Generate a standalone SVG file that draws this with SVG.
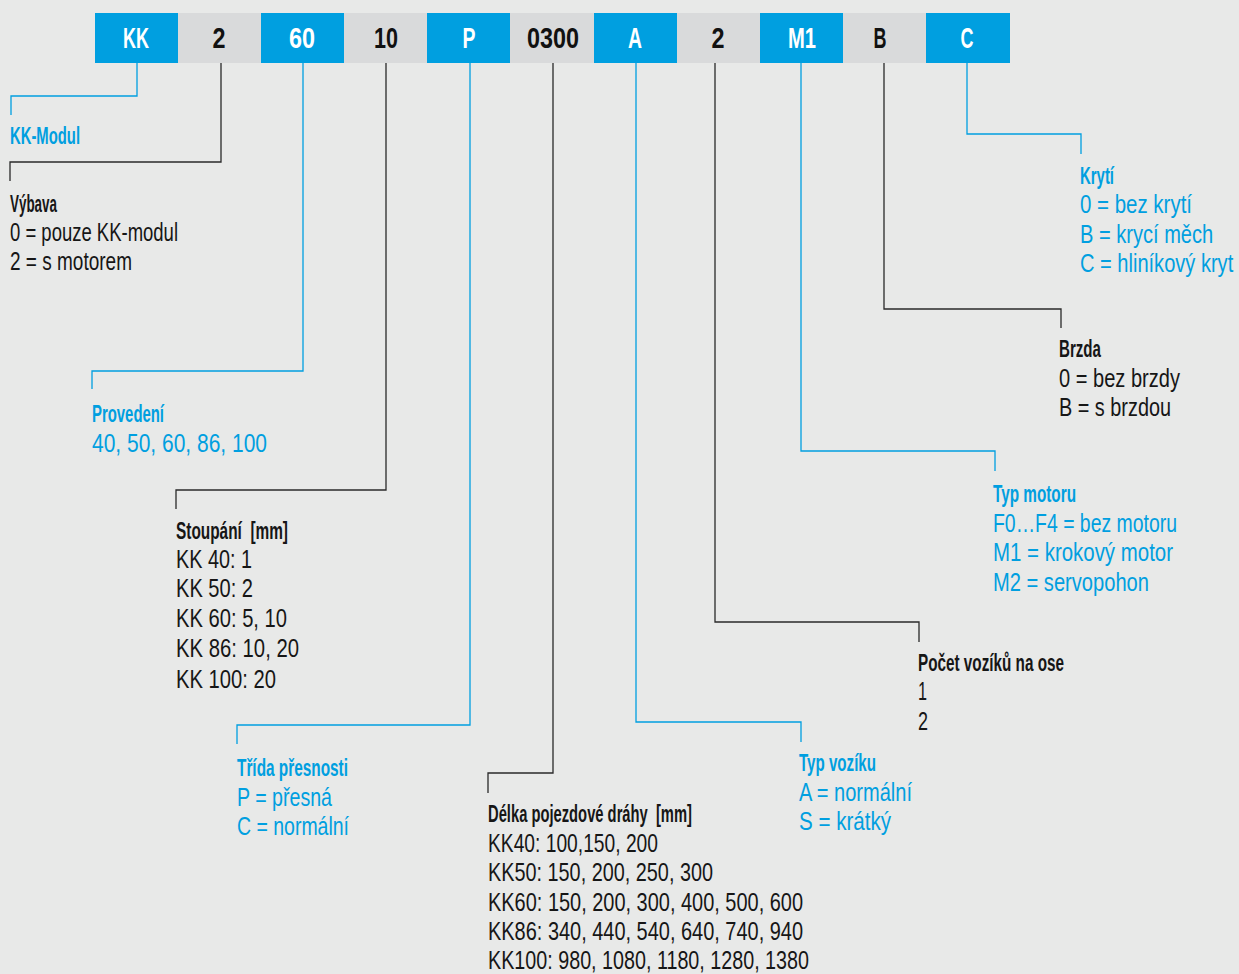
<svg xmlns="http://www.w3.org/2000/svg" width="1239" height="974" viewBox="0 0 1239 974">
<style>
.bg{fill:#e8e9e8}
.bb{fill:#009fe0}
.gb{fill:#d9dadb}
.code{font-family:"Liberation Sans",Arial,sans-serif;font-weight:bold;font-size:30px;text-anchor:middle}
.cw{fill:#ffffff}
.ck{fill:#111111}
.t{font-family:"Liberation Sans",Arial,sans-serif;font-size:26px}
.h{font-family:"Liberation Sans",Arial,sans-serif;font-size:23px;font-weight:bold}
.blue{fill:#009fe0}
.dark{fill:#161616}
.lb{fill:none;stroke:#009fe0;stroke-width:1.3}
.lk{fill:none;stroke:#2a2a2a;stroke-width:1.3}
</style>
<rect class="bg" x="0" y="0" width="1239" height="974"/>
<g id="code-bar">
<rect class="bb" x="95" y="13" width="83" height="50"/>
<rect class="gb" x="178" y="13" width="83" height="50"/>
<rect class="bb" x="261" y="13" width="83" height="50"/>
<rect class="gb" x="344" y="13" width="83" height="50"/>
<rect class="bb" x="427" y="13" width="83" height="50"/>
<rect class="gb" x="510" y="13" width="84" height="50"/>
<rect class="bb" x="594" y="13" width="83" height="50"/>
<rect class="gb" x="677" y="13" width="83" height="50"/>
<rect class="bb" x="760" y="13" width="83" height="50"/>
<rect class="gb" x="843" y="13" width="83" height="50"/>
<rect class="bb" x="926" y="13" width="84" height="50"/>
<text class="code cw" x="136" y="48" textLength="26" lengthAdjust="spacingAndGlyphs">KK</text>
<text class="code ck" x="219" y="48" textLength="13" lengthAdjust="spacingAndGlyphs">2</text>
<text class="code cw" x="302" y="48" textLength="26" lengthAdjust="spacingAndGlyphs">60</text>
<text class="code ck" x="386" y="48" textLength="24" lengthAdjust="spacingAndGlyphs">10</text>
<text class="code cw" x="469" y="48" textLength="13" lengthAdjust="spacingAndGlyphs">P</text>
<text class="code ck" x="553" y="48" textLength="52" lengthAdjust="spacingAndGlyphs">0300</text>
<text class="code cw" x="635" y="48" textLength="14" lengthAdjust="spacingAndGlyphs">A</text>
<text class="code ck" x="718" y="48" textLength="13" lengthAdjust="spacingAndGlyphs">2</text>
<text class="code cw" x="802" y="48" textLength="28" lengthAdjust="spacingAndGlyphs">M1</text>
<text class="code ck" x="880" y="48" textLength="13" lengthAdjust="spacingAndGlyphs">B</text>
<text class="code cw" x="967" y="48" textLength="13" lengthAdjust="spacingAndGlyphs">C</text>
</g>
<g id="connectors">
<polyline class="lb" points="137,63 137,96 11,96 11,115"/>
<polyline class="lk" points="221,63 221,162 10,162 10,181"/>
<polyline class="lb" points="303,63 303,371 92,371 92,389"/>
<polyline class="lk" points="386,63 386,490 176,490 176,509"/>
<polyline class="lb" points="470,63 470,725 237,725 237,744"/>
<polyline class="lk" points="553,63 553,773 488,773 488,793"/>
<polyline class="lb" points="636,63 636,722 801,722 801,742"/>
<polyline class="lk" points="715,63 715,622 919,622 919,642"/>
<polyline class="lb" points="801,63 801,451 995,451 995,471"/>
<polyline class="lk" points="884,63 884,309 1061,309 1061,328"/>
<polyline class="lb" points="967,63 967,134 1081,134 1081,154"/>
</g>
<g id="kk-modul">
<text class="h blue" x="10" y="144" textLength="70" lengthAdjust="spacingAndGlyphs">KK-Modul</text>
</g>
<g id="vybava">
<text class="h dark" x="10" y="212" textLength="47" lengthAdjust="spacingAndGlyphs">Výbava</text>
<text class="t dark" x="10" y="241" textLength="168" lengthAdjust="spacingAndGlyphs">0 = pouze KK-modul</text>
<text class="t dark" x="10" y="270" textLength="122" lengthAdjust="spacingAndGlyphs">2 = s motorem</text>
</g>
<g id="provedeni">
<text class="h blue" x="92" y="422" textLength="72" lengthAdjust="spacingAndGlyphs">Provedení</text>
<text class="t blue" x="92" y="452" textLength="175" lengthAdjust="spacingAndGlyphs">40, 50, 60, 86, 100</text>
</g>
<g id="stoupani">
<text class="h dark" x="176" y="539" textLength="112" lengthAdjust="spacingAndGlyphs">Stoupání&#160; [mm]</text>
<text class="t dark" x="176" y="568" textLength="76" lengthAdjust="spacingAndGlyphs">KK 40: 1</text>
<text class="t dark" x="176" y="597" textLength="77" lengthAdjust="spacingAndGlyphs">KK 50: 2</text>
<text class="t dark" x="176" y="627" textLength="111" lengthAdjust="spacingAndGlyphs">KK 60: 5, 10</text>
<text class="t dark" x="176" y="657" textLength="123" lengthAdjust="spacingAndGlyphs">KK 86: 10, 20</text>
<text class="t dark" x="176" y="688" textLength="100" lengthAdjust="spacingAndGlyphs">KK 100: 20</text>
</g>
<g id="trida-presnosti">
<text class="h blue" x="237" y="776" textLength="111" lengthAdjust="spacingAndGlyphs">Třída přesnosti</text>
<text class="t blue" x="237" y="806" textLength="95" lengthAdjust="spacingAndGlyphs">P = přesná</text>
<text class="t blue" x="237" y="835" textLength="112" lengthAdjust="spacingAndGlyphs">C = normální</text>
</g>
<g id="delka-drahy">
<text class="h dark" x="488" y="822" textLength="204" lengthAdjust="spacingAndGlyphs">Délka pojezdové dráhy&#160; [mm]</text>
<text class="t dark" x="488" y="852" textLength="170" lengthAdjust="spacingAndGlyphs">KK40: 100,150, 200</text>
<text class="t dark" x="488" y="881" textLength="225" lengthAdjust="spacingAndGlyphs">KK50: 150, 200, 250, 300</text>
<text class="t dark" x="488" y="911" textLength="315" lengthAdjust="spacingAndGlyphs">KK60: 150, 200, 300, 400, 500, 600</text>
<text class="t dark" x="488" y="940" textLength="315" lengthAdjust="spacingAndGlyphs">KK86: 340, 440, 540, 640, 740, 940</text>
<text class="t dark" x="488" y="969" textLength="321" lengthAdjust="spacingAndGlyphs">KK100: 980, 1080, 1180, 1280, 1380</text>
</g>
<g id="typ-voziku">
<text class="h blue" x="799" y="771" textLength="77" lengthAdjust="spacingAndGlyphs">Typ vozíku</text>
<text class="t blue" x="799" y="801" textLength="113" lengthAdjust="spacingAndGlyphs">A = normální</text>
<text class="t blue" x="799" y="830" textLength="92" lengthAdjust="spacingAndGlyphs">S = krátký</text>
</g>
<g id="pocet-voziku">
<text class="h dark" x="918" y="671" textLength="146" lengthAdjust="spacingAndGlyphs">Počet vozíků na ose</text>
<text class="t dark" x="918" y="700" textLength="9" lengthAdjust="spacingAndGlyphs">1</text>
<text class="t dark" x="918" y="730" textLength="10" lengthAdjust="spacingAndGlyphs">2</text>
</g>
<g id="typ-motoru">
<text class="h blue" x="993" y="502" textLength="83" lengthAdjust="spacingAndGlyphs">Typ motoru</text>
<text class="t blue" x="993" y="532" textLength="184" lengthAdjust="spacingAndGlyphs">F0…F4 = bez motoru</text>
<text class="t blue" x="993" y="561" textLength="180" lengthAdjust="spacingAndGlyphs">M1 = krokový motor</text>
<text class="t blue" x="993" y="591" textLength="156" lengthAdjust="spacingAndGlyphs">M2 = servopohon</text>
</g>
<g id="brzda">
<text class="h dark" x="1059" y="357" textLength="42" lengthAdjust="spacingAndGlyphs">Brzda</text>
<text class="t dark" x="1059" y="387" textLength="121" lengthAdjust="spacingAndGlyphs">0 = bez brzdy</text>
<text class="t dark" x="1059" y="416" textLength="112" lengthAdjust="spacingAndGlyphs">B = s brzdou</text>
</g>
<g id="kryti">
<text class="h blue" x="1080" y="184" textLength="34" lengthAdjust="spacingAndGlyphs">Krytí</text>
<text class="t blue" x="1080" y="213" textLength="112" lengthAdjust="spacingAndGlyphs">0 = bez krytí</text>
<text class="t blue" transform="translate(1080,243) scale(0.77,1)" x="0" y="0" textLength="173" lengthAdjust="spacingAndGlyphs">B = krycí měch</text>
<text class="t blue" transform="translate(1080,272) scale(0.77,1)" x="0" y="0" textLength="199" lengthAdjust="spacingAndGlyphs">C = hliníkový kryt</text>
</g>
</svg>
